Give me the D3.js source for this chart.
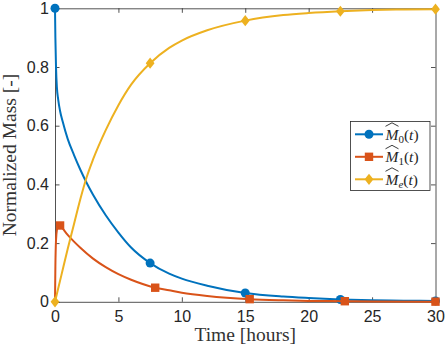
<!DOCTYPE html>
<html>
<head>
<meta charset="utf-8">
<script src="https://cdn.jsdelivr.net/npm/d3@7"></script>
<style>
  body { margin: 0; background: #fff; }
  svg { display: block; }
  .serif { font-family: "Liberation Serif", "DejaVu Serif", serif; }
</style>
</head>
<body>
<svg id="chart" width="447" height="348"></svg>
<script>
'use strict';

// time grid (hours) and curves
const m0Time = [0, 0.03, 0.08, 0.15, 0.25, 0.4, 0.6, 1, 1.5, 2, 2.5, 3, 4, 5, 6, 7.5, 9, 10, 12, 15, 18, 20, 22.5, 25, 27.5, 30];
const m0Vals = [1, 0.9, 0.8, 0.73, 0.69, 0.65, 0.615, 0.555, 0.5, 0.45, 0.405, 0.365, 0.295, 0.236, 0.185, 0.132, 0.096, 0.079, 0.055, 0.03, 0.018, 0.013, 0.008, 0.005, 0.004, 0.003];

const m1Time = [0, 0.03, 0.08, 0.15, 0.25, 0.4, 0.6, 1, 1.5, 2, 3, 4, 5, 6, 7.9, 9, 10, 12, 15.35, 18, 20, 22.85, 25, 30];
const m1Vals = [0, 0.12, 0.21, 0.245, 0.258, 0.26, 0.25, 0.228, 0.205, 0.184, 0.147, 0.118, 0.094, 0.075, 0.048, 0.039, 0.031, 0.02, 0.009, 0.005, 0.003, 0.002, 0.001, 0.0005];

const meTime = [0, 0.5, 1, 1.5, 2, 2.5, 3, 4, 5, 6, 7.5, 9, 10, 12, 15, 18, 20, 22.5, 25, 27.5, 30];
const meVals = [0, 0.09, 0.18, 0.265, 0.35, 0.425, 0.485, 0.585, 0.67, 0.74, 0.813, 0.865, 0.89, 0.925, 0.958, 0.977, 0.984, 0.99, 0.994, 0.996, 0.997];

// marker positions
const m0MarkT = [0, 7.5, 15, 22.5, 30];
const m0MarkV = [1, 0.132, 0.03, 0.008, 0.003];
const m1MarkT = [0.4, 7.9, 15.35, 22.85, 30];
const m1MarkV = [0.26, 0.048, 0.009, 0.002, 0.0005];
const meMarkT = [0, 7.5, 15, 22.5, 30];
const meMarkV = [0, 0.813, 0.958, 0.99, 0.997];

const xTicks = [0, 5, 10, 15, 20, 25, 30];
const yTicks = [0, 0.2, 0.4, 0.6, 0.8, 1];

const blue = "#0072BD", red = "#D95319", yellow = "#EDB120";
const axisColor = "#262626";

let svg = d3.select("#chart"),
	plotLeft = 55, plotRight = 435.5, plotTop = 8.3, plotBottom = 301.8;

let x = d3.scaleLinear().domain([0, 30]).range([plotLeft, plotRight]);
let y = d3.scaleLinear().domain([0, 1]).range([plotBottom, plotTop]);

// box with inward ticks on all sides
function styleAxis(g) {
	g.select(".domain").attr("stroke", axisColor).attr("stroke-width", 0.8);
	g.selectAll(".tick line").attr("stroke", axisColor).attr("stroke-width", 0.8);
	g.selectAll(".tick text").attr("fill", axisColor)
		.style("font-family", "'Liberation Sans', Arial, sans-serif")
		.style("font-size", "16px");
}

svg.append("g")
	.attr("transform", "translate(0," + plotBottom + ")")
	.call(d3.axisBottom(x).tickValues(xTicks).tickSizeInner(-4.5).tickSizeOuter(0).tickPadding(8.5))
	.call(styleAxis);

svg.append("g")
	.attr("transform", "translate(0," + plotTop + ")")
	.call(d3.axisTop(x).tickValues(xTicks).tickSizeInner(-4.5).tickSizeOuter(0).tickFormat(""))
	.call(styleAxis);

svg.append("g")
	.attr("transform", "translate(" + plotLeft + ",0)")
	.call(d3.axisLeft(y).tickValues(yTicks).tickSizeInner(-4.5).tickSizeOuter(0).tickPadding(6)
		.tickFormat(d => d === 0 || d === 1 ? d3.format("d")(d) : d3.format(".1f")(d)))
	.call(styleAxis);

svg.append("g")
	.attr("transform", "translate(" + plotRight + ",0)")
	.call(d3.axisRight(y).tickValues(yTicks).tickSizeInner(-4.5).tickSizeOuter(0).tickFormat(""))
	.call(styleAxis);

// axis labels
svg.append("text")
	.attr("class", "serif")
	.attr("x", (plotLeft + plotRight) / 2)
	.attr("y", 340.5)
	.attr("text-anchor", "middle")
	.attr("fill", "#333")
	.style("font-size", "19.5px")
	.text("Time [hours]");

svg.append("text")
	.attr("class", "serif")
	.attr("transform", "translate(16," + ((plotTop + plotBottom) / 2) + ") rotate(-90)")
	.attr("text-anchor", "middle")
	.attr("fill", "#333")
	.style("font-size", "19.5px")
	.text("Normalized Mass [-]");

let line = d3.line()
	.x(d => x(d[0]))
	.y(d => y(d[1]))
	.curve(d3.curveMonotoneX);

const series = [
	{time: m0Time, vals: m0Vals, mt: m0MarkT, mv: m0MarkV, color: blue, marker: "circle", sub: "0"},
	{time: m1Time, vals: m1Vals, mt: m1MarkT, mv: m1MarkV, color: red, marker: "square", sub: "1"},
	{time: meTime, vals: meVals, mt: meMarkT, mv: meMarkV, color: yellow, marker: "diamond", sub: "e"}
];

function drawMarker(g, type, cx, cy, color) {
	if (type === "circle") {
		g.append("circle").attr("cx", cx).attr("cy", cy).attr("r", 4.5).attr("fill", color);
	} else if (type === "square") {
		g.append("rect").attr("x", cx - 4.2).attr("y", cy - 4.2)
			.attr("width", 8.4).attr("height", 8.4).attr("fill", color);
	} else {
		g.append("path")
			.attr("d", "M" + cx + "," + (cy - 5.6) + "L" + (cx + 4.4) + "," + cy +
				"L" + cx + "," + (cy + 5.6) + "L" + (cx - 4.4) + "," + cy + "Z")
			.attr("fill", color);
	}
}

series.forEach(function(s) {
	let g = svg.append("g");
	g.append("path")
		.datum(s.time.map((t, i) => [t, s.vals[i]]))
		.attr("fill", "none")
		.attr("stroke", s.color)
		.attr("stroke-width", 2)
		.attr("stroke-linejoin", "round")
		.attr("d", line);
	s.mt.forEach(function(t, i) {
		drawMarker(g, s.marker, x(t), y(s.mv[i]), s.color);
	});
});

// legend
let lg = svg.append("g");
lg.append("rect")
	.attr("x", 350.5).attr("y", 121.5)
	.attr("width", 79.5).attr("height", 69)
	.attr("fill", "#fff")
	.attr("stroke", axisColor)
	.attr("stroke-width", 0.8);

series.forEach(function(s, i) {
	let cy = 134.3 + i * 22.5;
	lg.append("line")
		.attr("x1", 355).attr("x2", 383)
		.attr("y1", cy).attr("y2", cy)
		.attr("stroke", s.color).attr("stroke-width", 2);
	drawMarker(lg, s.marker, 369, cy, s.color);

	let t = lg.append("text")
		.attr("class", "serif")
		.attr("x", 385.5).attr("y", cy + 5.5)
		.attr("fill", axisColor)
		.style("font-size", "15.5px");
	t.append("tspan").style("font-style", "italic").text("M");
	t.append("tspan").attr("dy", 3).style("font-size", "11px")
		.style("font-style", s.sub === "e" ? "italic" : "normal").text(s.sub);
	t.append("tspan").attr("dy", -3).text("(");
	t.append("tspan").style("font-style", "italic").text("t");
	t.append("tspan").text(")");

	// wide hat over M
	lg.append("path")
		.attr("d", "M385.5," + (cy - 8) + "L392," + (cy - 11.5) + "L398.5," + (cy - 8))
		.attr("fill", "none")
		.attr("stroke", axisColor)
		.attr("stroke-width", 0.9);
});
</script>
</body>
</html>
